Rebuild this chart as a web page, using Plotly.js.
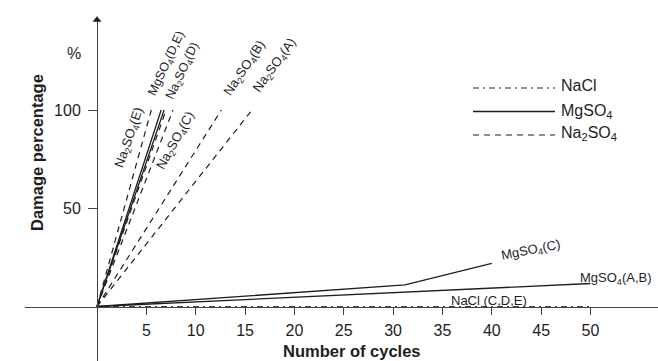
<!DOCTYPE html>
<html>
<head>
<meta charset="utf-8">
<script src="https://cdn.plot.ly/plotly-3.0.1.min.js"></script>
<style>html,body{margin:0;padding:0;background:#fff;}#chart{width:658px;height:361px;}</style>
</head>
<body>
<div id="chart"></div>
<script>
// ---- data ----
const na2so4_A_x = [0, 15.7];  const na2so4_A_y = [0, 100];
const na2so4_B_x = [0, 12.6];  const na2so4_B_y = [0, 100];
const na2so4_C_x = [0, 7.7];   const na2so4_C_y = [0, 100];
const na2so4_D_x = [0, 7.0];   const na2so4_D_y = [0, 100];
const na2so4_E_x = [0, 5.5];   const na2so4_E_y = [0, 100];
const mgso4_D_x = [0, 6.5];    const mgso4_D_y = [0, 100];
const mgso4_E_x = [0, 6.8];    const mgso4_E_y = [0, 100];
const mgso4_C_x = [0, 31.2, 40]; const mgso4_C_y = [0, 11, 22];
const mgso4_AB_x = [0, 50];    const mgso4_AB_y = [0, 11.7];
const nacl_CDE_x = [0, 50];    const nacl_CDE_y = [0, 0];

const xTicks = [5, 10, 15, 20, 25, 30, 35, 40, 45, 50];
const yTicks = [50, 100];

// ---- styling ----
const FONT = 'Liberation Sans, Arial, Helvetica, sans-serif';
const INK = '#1e1e1e';
const AXIS = '#444';
const DASH = '6px,5px';
const DASHDOT = '6px,4px,2px,4px';

function line(x, y, dash, w, color) {
  return {type: 'scatter', mode: 'lines', x: x, y: y, hoverinfo: 'skip',
          line: {color: color || INK, width: w || 1.2, dash: dash || 'solid'}};
}
const traces = [
  line(nacl_CDE_x, nacl_CDE_y, DASHDOT, 1, AXIS),
  line(na2so4_A_x, na2so4_A_y, DASH),
  line(na2so4_B_x, na2so4_B_y, DASH),
  line(na2so4_C_x, na2so4_C_y, DASH),
  line(na2so4_D_x, na2so4_D_y, DASH),
  line(na2so4_E_x, na2so4_E_y, DASH),
  line(mgso4_D_x, mgso4_D_y, 'solid', 1.3),
  line(mgso4_E_x, mgso4_E_y, 'solid', 1.3),
  line(mgso4_C_x, mgso4_C_y, 'solid', 1.3),
  line(mgso4_AB_x, mgso4_AB_y, 'solid', 1.3)
];

// pixel -> paper helpers (plot area: x 25..658, y 19..361)
const L = 25, T = 19, W = 633, H = 342;
const px = v => (v - L) / W;
const py = v => (361 - v) / H;

function lab(text, x, y, ang, size) {
  return {text: text, x: x, y: y, xref: 'x', yref: 'y', showarrow: false,
          textangle: ang, xanchor: 'center', yanchor: 'middle',
          font: {family: FONT, size: size || 13, color: INK}};
}
function ptext(text, x, y, opts) {
  return Object.assign({text: text, x: px(x), y: py(y), xref: 'paper', yref: 'paper',
          showarrow: false, xanchor: 'center', yanchor: 'middle',
          font: {family: FONT, size: 16, color: INK}}, opts || {});
}

const annotations = [
  lab('Na<sub>2</sub>SO<sub>4</sub>(E)', 3.3, 86.0, -71),
  lab('MgSO<sub>4</sub>(D,E)', 7.1, 123.2, -65, 12.5),
  lab('Na<sub>2</sub>SO<sub>4</sub>(D)', 8.7, 120.0, -65, 12.5),
  lab('Na<sub>2</sub>SO<sub>4</sub>(C)', 8.0, 84.5, -61),
  lab('Na<sub>2</sub>SO<sub>4</sub>(B)', 15.0, 120.9, -56),
  lab('Na<sub>2</sub>SO<sub>4</sub>(A)', 18.0, 122.9, -54),
  lab('MgSO<sub>4</sub>(C)', 44.0, 28.4, -11),
  lab('MgSO<sub>4</sub>(A,B)', 52.6, 14.5, 0),
  lab('NaCl (C,D,E)', 39.7, 3.3, 0),
  ptext('NaCl', 559, 85, {xanchor: 'left'}),
  ptext('MgSO<sub>4</sub>', 559, 111, {xanchor: 'left'}),
  ptext('Na<sub>2</sub>SO<sub>4</sub>', 559, 133, {xanchor: 'left'}),
  ptext('%', 74, 53, {font: {family: FONT, size: 16, color: INK}}),
  ptext('<b>Damage percentage</b>', 37, 153, {textangle: -90, font: {family: FONT, size: 16.5, color: INK}}),
  ptext('<b>Number of cycles</b>', 352, 351, {font: {family: FONT, size: 16.5, color: INK}})
];

const shapes = [
  {type: 'line', xref: 'paper', yref: 'paper', x0: px(473), x1: px(555), y0: py(88), y1: py(88),
   line: {color: INK, width: 1.2, dash: DASHDOT}},
  {type: 'line', xref: 'paper', yref: 'paper', x0: px(473), x1: px(555), y0: py(111.5), y1: py(111.5),
   line: {color: INK, width: 1.4}},
  {type: 'line', xref: 'paper', yref: 'paper', x0: px(473), x1: px(555), y0: py(135), y1: py(135),
   line: {color: INK, width: 1.2, dash: DASH}},
  {type: 'path', xref: 'paper', yref: 'paper',
   path: 'M ' + px(93) + ',' + py(21.5) + ' L ' + px(101) + ',' + py(21.5) + ' L ' + px(97) + ',' + py(16.5) + ' Z',
   fillcolor: INK, line: {color: INK, width: 0.5}}
];

const layout = {
  width: 658, height: 361,
  margin: {l: L, r: 0, t: T, b: 0, pad: 0},
  paper_bgcolor: '#fff', plot_bgcolor: 'rgba(0,0,0,0)',
  showlegend: false, hovermode: false,
  font: {family: FONT, color: INK},
  xaxis: {range: [-72 / 9.87, 561 / 9.87], anchor: 'free', position: (361 - 306.5) / H,
          showline: true, linecolor: AXIS, linewidth: 1, showgrid: false, zeroline: false,
          tickmode: 'array', tickvals: xTicks, ticks: 'outside', ticklen: 7, tickcolor: AXIS,
          ticklabelstandoff: 2,
          tickfont: {family: FONT, size: 16, color: INK}, fixedrange: true},
  yaxis: {range: [(306.5 - 361) / 1.965, (306.5 - 19) / 1.965], anchor: 'free', position: (97 - L) / W,
          showline: true, linecolor: AXIS, linewidth: 1, showgrid: false, zeroline: false,
          tickmode: 'array', tickvals: yTicks, ticks: 'outside', ticklen: 9, tickcolor: AXIS,
          ticklabelstandoff: 4,
          tickfont: {family: FONT, size: 16, color: INK}, fixedrange: true},
  annotations: annotations,
  shapes: shapes
};

Plotly.newPlot('chart', traces, layout, {staticPlot: true, displayModeBar: false});
</script>
</body>
</html>
